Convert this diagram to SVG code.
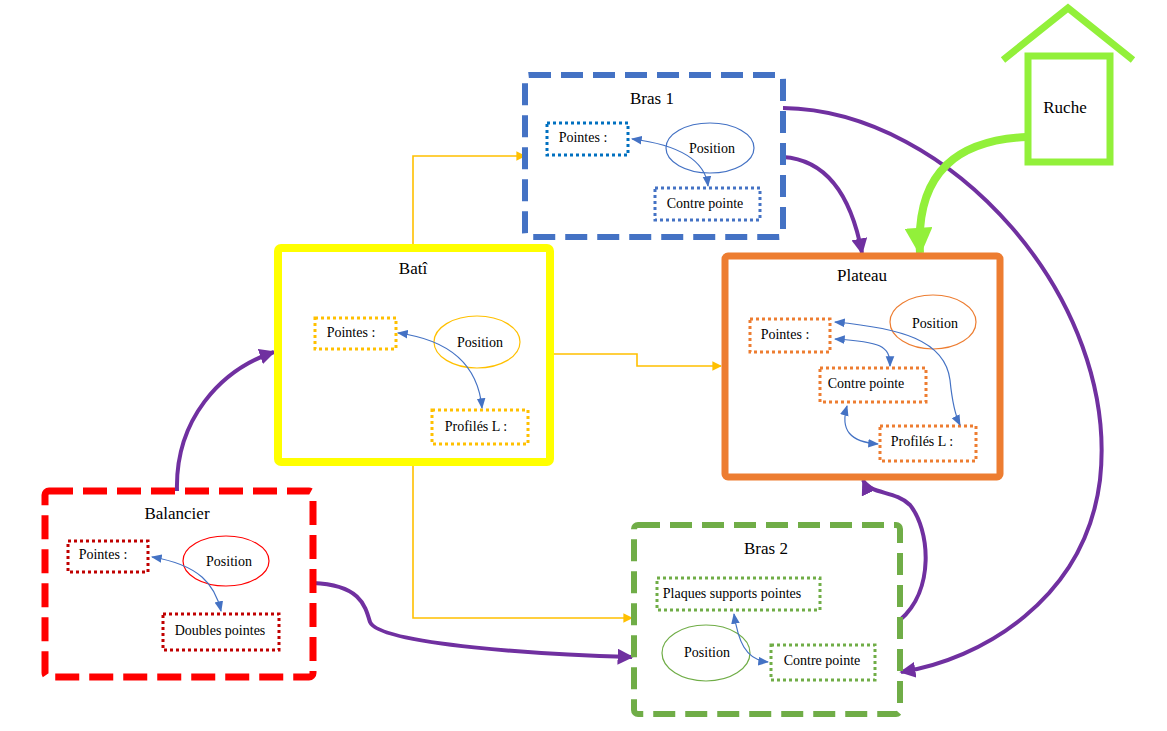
<svg xmlns="http://www.w3.org/2000/svg" width="1167" height="731" viewBox="0 0 1167 731">
<defs>
<style>
text{font-family:"Liberation Serif",serif;font-size:14px;fill:#000;text-anchor:middle}
.t{font-size:17px}
.b{fill:none;stroke-dasharray:3 3;stroke-width:3}
.e{fill:none;stroke-width:1.2}
.y{stroke:#ffc000;stroke-width:1.6;fill:none;marker-end:url(#ay)}
.p{stroke:#7030a0;stroke-width:4;fill:none;marker-end:url(#ap)}
.s{stroke:#4472c4;stroke-width:1.2;fill:none;marker-start:url(#as);marker-end:url(#ae)}
</style>
<marker id="ay" viewBox="0 0 10 10" refX="9" refY="5" markerWidth="6" markerHeight="6" orient="auto"><path d="M0,0L10,5L0,10z" fill="#ffc000"/></marker>
<marker id="ap" viewBox="0 0 10 10" refX="9" refY="5" markerWidth="4" markerHeight="4" orient="auto"><path d="M0,0L10,5L0,10z" fill="#7030a0"/></marker>
<marker id="ag" viewBox="0 0 10 10" refX="9" refY="5" markerWidth="3.5" markerHeight="3.5" orient="auto"><path d="M0,0L10,5L0,10z" fill="#92f03a"/></marker>
<marker id="ae" viewBox="0 0 10 10" refX="9" refY="5" markerWidth="9" markerHeight="9" orient="auto"><path d="M0,1L10,5L0,9z" fill="#4472c4"/></marker>
<marker id="as" viewBox="0 0 10 10" refX="1" refY="5" markerWidth="9" markerHeight="9" orient="auto"><path d="M10,1L0,5L10,9z" fill="#4472c4"/></marker>
</defs>
<rect width="1167" height="731" fill="#fff"/>
<g id="connectors">
<path class="y" d="M413,245V156H525"/>
<path class="y" d="M552,354H637V366H721"/>
<path class="y" d="M413,464V618H632"/>
<path class="p" d="M177,491C175,420 220,370 274,352"/>
<path class="p" d="M313,583C360,585 365,605 370,622C380,645 550,655 632,657"/>
<path class="p" d="M783,157C830,160 852,200 862,253"/>
<path class="p" d="M783,108C950,110 1120,300 1100,480C1085,600 980,660 901,672"/>
<path class="p" d="M900,620C935,590 930,530 910,505C895,490 870,495 863,480"/>
<path d="M1027,137C960,140 915,170 920,253" stroke="#92f03a" stroke-width="8" fill="none" marker-end="url(#ag)"/>
</g>
<g id="bras1">
<rect x="525" y="75" width="258" height="162" rx="4" fill="none" stroke="#4472c4" stroke-width="6" stroke-dasharray="22 10"/>
<text class="t" x="652" y="104">Bras 1</text>
<rect class="b" x="547" y="123" width="81" height="32" stroke="#0070c0"/><text x="583" y="142">Pointes :</text>
<ellipse class="e" cx="710" cy="148" rx="44" ry="25" stroke="#4472c4"/><text x="712" y="153">Position</text>
<rect class="b" x="655" y="188" width="105" height="32" stroke="#4472c4"/><text x="705" y="208">Contre pointe</text>
<path class="s" d="M632,139C680,145 705,160 708,186"/>
</g>
<g id="bati">
<rect x="278" y="248" width="272" height="214" rx="3" fill="none" stroke="#ffff00" stroke-width="8"/>
<text class="t" x="413" y="274">Batî</text>
<rect class="b" x="315" y="318" width="81" height="31" stroke="#ffc000"/><text x="351" y="337">Pointes :</text>
<ellipse class="e" cx="477" cy="342" rx="43" ry="26" stroke="#ffc000"/><text x="480" y="347">Position</text>
<rect class="b" x="432" y="410" width="96" height="34" stroke="#ffc000"/><text x="476" y="431">Profilés L :</text>
<path class="s" d="M398,333C450,340 478,365 482,408"/>
</g>
<g id="plateau">
<rect x="725" y="256" width="275" height="221" rx="3" fill="none" stroke="#ed7d31" stroke-width="7"/>
<text class="t" x="862" y="281">Plateau</text>
<rect class="b" x="750" y="319" width="80" height="33" stroke="#ed7d31"/><text x="785" y="339">Pointes :</text>
<ellipse class="e" cx="933" cy="322" rx="43" ry="27" stroke="#ed7d31"/><text x="935" y="328">Position</text>
<rect class="b" x="820" y="368" width="106" height="34" stroke="#ed7d31"/><text x="866" y="388">Contre pointe</text>
<rect class="b" x="880" y="426" width="96" height="35" stroke="#ed7d31"/><text x="922" y="446">Profilés L :</text>
<path class="s" d="M835,322C900,328 945,340 950,380C952,400 955,415 960,425"/>
<path class="s" d="M835,339C880,342 890,345 890,366"/>
<path class="s" d="M847,406C840,430 850,442 878,444"/>
</g>
<g id="balancier">
<rect x="45" y="491" width="268" height="186" rx="4" fill="none" stroke="#ff0000" stroke-width="7" stroke-dasharray="24 10"/>
<text class="t" x="177" y="519">Balancier</text>
<rect class="b" x="68" y="541" width="80" height="31" stroke="#c00000"/><text x="103" y="559">Pointes :</text>
<ellipse class="e" cx="226" cy="561" rx="43" ry="25" stroke="#ff0000"/><text x="229" y="566">Position</text>
<rect class="b" x="163" y="614" width="116" height="36" stroke="#c00000"/><text x="220" y="635">Doubles pointes</text>
<path class="s" d="M152,557C200,565 215,585 221,611"/>
</g>
<g id="bras2">
<rect x="634" y="525" width="266" height="189" rx="4" fill="none" stroke="#70ad47" stroke-width="6" stroke-dasharray="22 10"/>
<text class="t" x="766" y="554">Bras 2</text>
<rect class="b" x="657" y="578" width="163" height="32" stroke="#70ad47"/><text x="732" y="598">Plaques supports pointes</text>
<ellipse class="e" cx="706" cy="653" rx="44" ry="28" stroke="#70ad47"/><text x="707" y="657">Position</text>
<rect class="b" x="771" y="645" width="104" height="35" stroke="#70ad47"/><text x="822" y="665">Contre pointe</text>
<path class="s" d="M734,614C738,640 745,660 768,662"/>
</g>
<g id="ruche">
<rect x="1028" y="56" width="82" height="106" fill="none" stroke="#92f03a" stroke-width="7"/>
<path d="M1003,60L1068,8L1133,60" fill="none" stroke="#92f03a" stroke-width="7"/>
<text class="t" x="1065" y="113">Ruche</text>
</g>
</svg>
